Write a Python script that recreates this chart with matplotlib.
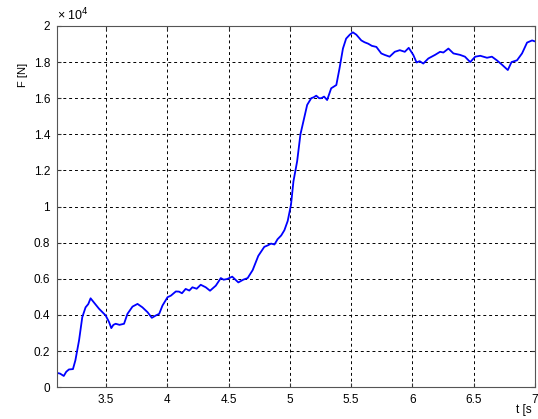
import matplotlib
matplotlib.use("Agg")
import matplotlib.pyplot as plt

# force trace (t in s, F in units of 1e4 N)
t = [3.10, 3.125, 3.155, 3.175, 3.197, 3.23, 3.25, 3.28, 3.306, 3.333, 3.355, 3.374,
     3.40, 3.443, 3.497, 3.525, 3.543, 3.56, 3.579, 3.61, 3.647, 3.675, 3.716, 3.757,
     3.797, 3.839, 3.874, 3.907, 3.934, 3.961, 4.002, 4.03, 4.07, 4.096, 4.12, 4.15,
     4.18, 4.205, 4.24, 4.273, 4.314, 4.349, 4.396, 4.437, 4.46, 4.49, 4.53, 4.58,
     4.62, 4.656, 4.697, 4.743, 4.792, 4.82, 4.847, 4.875, 4.90, 4.93, 4.956, 4.983,
     5.01, 5.03, 5.06, 5.087, 5.114, 5.142, 5.175, 5.195, 5.216, 5.24, 5.257, 5.28,
     5.305, 5.338, 5.38, 5.406, 5.434, 5.46, 5.49, 5.515, 5.543, 5.584, 5.61, 5.64,
     5.67, 5.707, 5.747, 5.774, 5.815, 5.857, 5.898, 5.939, 5.971, 6.008, 6.035, 6.06,
     6.09, 6.131, 6.186, 6.227, 6.254, 6.295, 6.336, 6.39, 6.43, 6.473, 6.514, 6.555,
     6.61, 6.65, 6.69, 6.73, 6.78, 6.81, 6.855, 6.896, 6.937, 6.978, 7.0]
F = [0.079, 0.075, 0.062, 0.085, 0.098, 0.10, 0.149, 0.26, 0.387, 0.442, 0.46, 0.492,
     0.47, 0.434, 0.397, 0.36, 0.327, 0.345, 0.351, 0.345, 0.351, 0.406, 0.446, 0.461,
     0.442, 0.415, 0.384, 0.397, 0.406, 0.452, 0.498, 0.507, 0.53, 0.529, 0.52, 0.544,
     0.535, 0.553, 0.545, 0.567, 0.553, 0.534, 0.562, 0.604, 0.595, 0.599, 0.612, 0.58,
     0.595, 0.604, 0.648, 0.727, 0.777, 0.785, 0.795, 0.79, 0.819, 0.84, 0.869, 0.92,
     1.01, 1.14, 1.25, 1.40, 1.48, 1.563, 1.60, 1.605, 1.614, 1.60, 1.60, 1.609,
     1.59, 1.655, 1.673, 1.765, 1.875, 1.93, 1.952, 1.965, 1.952, 1.92, 1.91, 1.902,
     1.89, 1.884, 1.848, 1.84, 1.83, 1.857, 1.866, 1.857, 1.879, 1.84, 1.798, 1.805,
     1.792, 1.82, 1.84, 1.857, 1.853, 1.875, 1.848, 1.84, 1.83, 1.80, 1.83, 1.835,
     1.824, 1.83, 1.81, 1.787, 1.756, 1.80, 1.81, 1.848, 1.908, 1.92, 1.915]

xticks = [3.5, 4, 4.5, 5, 5.5, 6, 6.5, 7]
xticklabels = ["3.5", "4", "4.5", "5", "5.5", "6", "6.5", "7"]
yticks = [0, 0.2, 0.4, 0.6, 0.8, 1, 1.2, 1.4, 1.6, 1.8, 2]
yticklabels = ["0", "0.2", "0.4", "0.6", "0.8", "1", "1.2", "1.4", "1.6", "1.8", "2"]

plt.rcParams["font.family"] = ["Liberation Sans", "DejaVu Sans"]
plt.rcParams["font.size"] = 8

fig = plt.figure(figsize=(5.38, 4.19), dpi=100)
ax = fig.add_axes([0.106, 0.076, 0.888, 0.862])

ax.plot(t, F, color="#0000ff", linewidth=1.3)

ax.set_xlim(3.1, 7)
ax.set_ylim(0, 2)
ax.set_xticks(xticks)
ax.set_xticklabels(xticklabels)
ax.set_yticks(yticks)
ax.set_yticklabels(yticklabels)
ax.tick_params(direction="in", length=3, top=True, right=True, colors="#333333",
               labelcolor="black", pad=5, labelsize=8.5)
ax.grid(True, color="black", linestyle=(0, (3, 3)), linewidth=0.7)
for sp in ax.spines.values():
    sp.set_color("#555555")
    sp.set_linewidth(0.8)

# MATLAB-style exponent and axis labels
ax.text(0.0, 1.008, "× 10$^4$", transform=ax.transAxes, ha="left", va="bottom", fontsize=9)
fig.text(0.042, 0.82, "F [N]", rotation=90, ha="center", va="center", fontsize=8)
fig.text(0.96, 0.022, "t [s", ha="left", va="center", fontsize=8.5)

fig.savefig("out.png", dpi=100)
